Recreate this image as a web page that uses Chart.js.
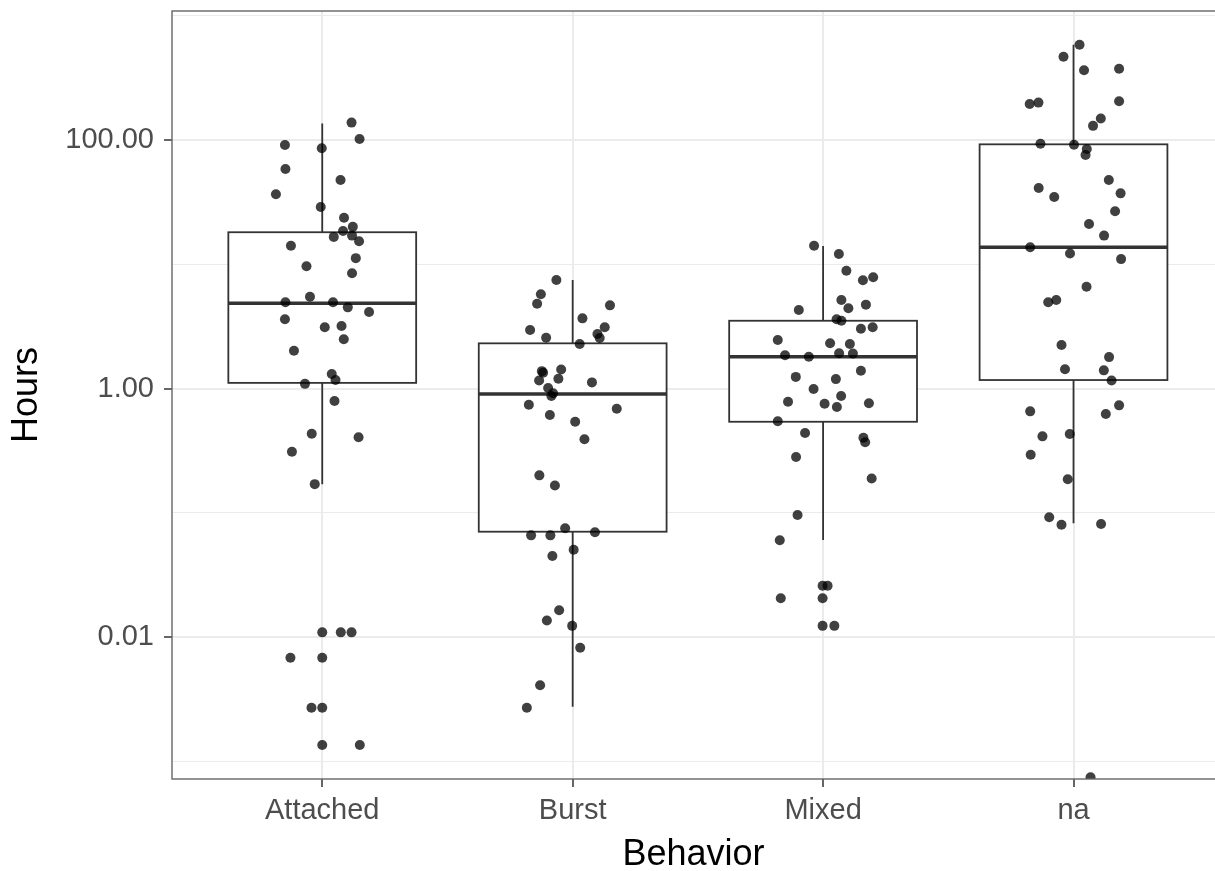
<!DOCTYPE html>
<html>
<head>
<meta charset="utf-8">
<title>Hours by behavior</title>
<script src="https://cdn.jsdelivr.net/npm/chart.js@4/dist/chart.umd.min.js"></script>
<style>
  html, body { margin: 0; padding: 0; background: #fff; }
</style>
</head>
<body>
<canvas id="hoursChart" width="1215" height="871"></canvas>
<script>
// categories on the x axis
const categories = ["Attached", "Burst", "Mixed", "na"];

// jittered observations (hours) and their horizontal jitter, per behavior
const attachedHours = [138, 102, 91.2, 85.8, 58.4, 47.6, 36.6, 28.9, 23.7, 20.0, 18.5, 16.6, 17.0, 15.3, 14.1,
  11.2, 9.63, 8.46, 5.48, 4.94, 4.94, 4.50, 4.13, 3.61, 3.11, 3.18, 2.49, 2.01, 1.31, 1.17, 1.09, 0.793,
  0.433, 0.405, 0.310, 0.170, 0.0109, 0.0109, 0.0109, 0.00681, 0.00681, 0.00270, 0.00270, 0.00135, 0.00135];
const attachedJitter = [0.117, 0.149, -0.149, -0.002, -0.147, 0.073, -0.185, -0.006, 0.087, 0.122, 0.083, 0.046,
  0.119, 0.147, -0.125, 0.134, -0.063, 0.119, -0.049, -0.147, 0.043, 0.102, 0.187, -0.149, 0.010, 0.077, 0.086,
  -0.113, 0.038, 0.053, -0.069, 0.049, -0.042, 0.145, -0.121, -0.030, 0, 0.074, 0.117, -0.127, 0, -0.043, 0, 0, 0.150];

const burstHours = [7.47, 5.73, 4.81, 4.67, 3.67, 3.11, 2.96, 2.75, 2.55, 2.56, 2.28, 1.34, 1.42, 1.38, 1.20,
  1.16, 1.12, 1.01, 0.915, 0.870, 0.741, 0.688, 0.612, 0.540, 0.390, 0.200, 0.166, 0.0750, 0.0696, 0.0658,
  0.0658, 0.0504, 0.0449, 0.0164, 0.0136, 0.0123, 0.0082, 0.00409, 0.0027];
const burstJitter = [-0.065, -0.127, -0.142, 0.149, 0.039, 0.128, -0.170, 0.099, 0.108, -0.106, 0.028, -0.118,
  -0.046, -0.123, -0.057, -0.134, 0.077, -0.098, -0.078, -0.085, -0.175, 0.176, -0.091, 0.010, 0.047, -0.133,
  -0.071, -0.030, 0.089, -0.166, -0.089, 0.004, -0.081, -0.054, -0.103, -0.002, 0.030, -0.130, -0.183];

const mixedHours = [14.1, 12.1, 8.87, 7.43, 7.85, 5.16, 4.42, 4.73, 4.28, 3.61, 3.51, 3.03, 3.11, 2.46, 2.31,
  2.28, 1.85, 1.80, 1.92, 1.91, 1.39, 1.24, 1.19, 0.990, 0.870, 0.783, 0.755, 0.710, 0.760, 0.545, 0.438,
  0.402, 0.369, 0.281, 0.189, 0.0959, 0.0600, 0.0259, 0.0259, 0.0205, 0.0205, 0.0123, 0.0123];
const mixedJitter = [-0.036, 0.063, 0.093, 0.159, 0.200, 0.073, 0.101, 0.171, -0.097, 0.054, 0.073, 0.151,
  0.198, -0.181, 0.028, 0.107, -0.152, -0.057, 0.064, 0.119, 0.151, -0.109, 0.051, -0.038, 0.072, -0.140,
  0.006, 0.055, 0.183, -0.181, -0.072, 0.161, 0.168, -0.108, 0.194, -0.102, -0.173, -0.002, 0.018, -0.169,
  -0.002, -0.002, 0.045];

const naHours = [585, 468, 364, 375, 195, 200, 205, 149, 130, 93.4, 91.7, 84.6, 75.7, 47.6, 41.1, 37.2, 34.8,
  26.7, 21.1, 17.0, 13.7, 12.2, 11.0, 6.60, 4.94, 5.16, 2.24, 1.79, 1.43, 1.40, 1.16, 0.732, 0.655, 0.623,
  0.430, 0.412, 0.293, 0.186, 0.0919, 0.0801, 0.0812, 0.000743];
const naJitter = [0.024, -0.040, 0.042, 0.182, -0.175, -0.140, 0.182, 0.109, 0.078, -0.132, 0.002, 0.053,
  0.048, 0.141, -0.139, 0.188, -0.077, 0.166, 0.062, 0.122, -0.173, -0.014, 0.190, 0.052, -0.101, -0.069,
  -0.048, 0.142, -0.034, 0.121, 0.152, 0.182, -0.173, 0.129, -0.015, -0.124, -0.171, -0.023, -0.097, -0.048,
  0.110, 0.068];

// box plot statistics per behavior (whisker ends, quartiles, median)
const boxLow = [0.170, 0.00275, 0.0604, 0.0823];
const boxQ1 = [1.11, 0.0704, 0.540, 1.17];
const boxMedian = [4.85, 0.903, 1.80, 13.7];
const boxQ3 = [18.1, 2.31, 3.51, 92.3];
const boxHigh = [136, 7.47, 14.0, 585];

// y axis breaks: labelled majors and unlabelled minors
const yMajorTicks = [0.01, 1, 100];
const yMinorTicks = [0.001, 0.1, 10, 1000];

const hoursByCat = [attachedHours, burstHours, mixedHours, naHours];
const jitterByCat = [attachedJitter, burstJitter, mixedJitter, naJitter];

const points = [];
hoursByCat.forEach((vals, i) => {
  vals.forEach((v, k) => points.push({ x: i + 1 + jitterByCat[i][k], y: v }));
});

const boxWidth = 0.75;
const tickFont = { family: "'Liberation Sans', Arial, sans-serif", size: 29 };
const titleFont = { family: "'Liberation Sans', Arial, sans-serif", size: 36, lineHeight: 1 };

// draws boxes + whiskers under the points, and the panel border on top
const boxPlugin = {
  id: 'boxPlot',
  beforeDatasetsDraw(chart) {
    const { ctx, chartArea: a, scales: { x, y } } = chart;
    ctx.save();
    ctx.beginPath();
    ctx.rect(a.left, a.top, a.right - a.left, a.bottom - a.top);
    ctx.clip();
    ctx.strokeStyle = '#333333';
    categories.forEach((c, i) => {
      const cx = x.getPixelForValue(i + 1);
      const x0 = x.getPixelForValue(i + 1 - boxWidth / 2);
      const x1 = x.getPixelForValue(i + 1 + boxWidth / 2);
      const yLo = y.getPixelForValue(boxLow[i]);
      const yQ1 = y.getPixelForValue(boxQ1[i]);
      const yMed = y.getPixelForValue(boxMedian[i]);
      const yQ3 = y.getPixelForValue(boxQ3[i]);
      const yHi = y.getPixelForValue(boxHigh[i]);

      ctx.lineWidth = 1.8;
      ctx.beginPath();
      ctx.moveTo(cx, yHi); ctx.lineTo(cx, yQ3);
      ctx.moveTo(cx, yQ1); ctx.lineTo(cx, yLo);
      ctx.stroke();

      ctx.fillStyle = '#ffffff';
      ctx.fillRect(x0, yQ3, x1 - x0, yQ1 - yQ3);
      ctx.strokeRect(x0, yQ3, x1 - x0, yQ1 - yQ3);

      ctx.lineWidth = 3.6;
      ctx.beginPath();
      ctx.moveTo(x0, yMed); ctx.lineTo(x1, yMed);
      ctx.stroke();
    });
    ctx.restore();
  },
  afterDatasetsDraw(chart) {
    const { ctx, chartArea: a } = chart;
    ctx.save();
    ctx.strokeStyle = '#666666';
    ctx.lineWidth = 1.4;
    ctx.strokeRect(a.left, a.top, a.right - a.left + 20, a.bottom - a.top);
    ctx.restore();
  }
};

new Chart(document.getElementById('hoursChart').getContext('2d'), {
  type: 'scatter',
  data: {
    datasets: [{
      data: points,
      backgroundColor: 'rgba(0, 0, 0, 0.75)',
      borderWidth: 0,
      pointRadius: 5,
      pointHoverRadius: 5,
      clip: 0
    }]
  },
  options: {
    responsive: false,
    animation: false,
    events: [],
    layout: { autoPadding: false, padding: { top: 11, left: 0, right: 0, bottom: 0 } },
    plugins: {
      legend: { display: false },
      tooltip: { enabled: false }
    },
    scales: {
      x: {
        type: 'linear',
        min: 0.4,
        max: 4.565,
        afterBuildTicks: (scale) => { scale.ticks = categories.map((c, i) => ({ value: i + 1 })); },
        afterFit: (scale) => { scale.height = 92; scale.paddingLeft = 0; scale.paddingRight = 0; },
        grid: { color: '#ebebeb', lineWidth: 2, tickColor: '#333333', tickLength: 8, tickWidth: 1.5 },
        border: { display: false },
        ticks: {
          autoSkip: false, maxRotation: 0, padding: 7, color: '#4d4d4d', font: tickFont,
          callback: (v) => categories[Math.round(v) - 1]
        },
        title: { display: true, text: 'Behavior', color: '#000000', font: titleFont, padding: { top: 0, bottom: -2 } }
      },
      y: {
        type: 'logarithmic',
        min: 0.00072,
        max: 1092,
        afterBuildTicks: (scale) => {
          scale.ticks = yMinorTicks.concat(yMajorTicks).sort((a, b) => a - b).map(v => ({ value: v }));
        },
        afterFit: (scale) => { scale.width = 172; scale.paddingTop = 0; scale.paddingBottom = 0; },
        grid: {
          color: '#ebebeb',
          lineWidth: (ctx) => yMajorTicks.includes(ctx.tick.value) ? 2 : 1,
          tickColor: (ctx) => yMajorTicks.includes(ctx.tick.value) ? '#333333' : 'rgba(0,0,0,0)',
          tickLength: 8,
          tickWidth: 1.5
        },
        border: { display: false },
        ticks: {
          autoSkip: false, padding: 10, color: '#4d4d4d', font: tickFont,
          callback: (v) => yMajorTicks.includes(v) ? v.toFixed(2) : ''
        },
        title: { display: true, text: 'Hours', color: '#000000', font: titleFont, padding: { top: 9, bottom: 0 } }
      }
    }
  },
  plugins: [boxPlugin]
});
</script>
</body>
</html>
